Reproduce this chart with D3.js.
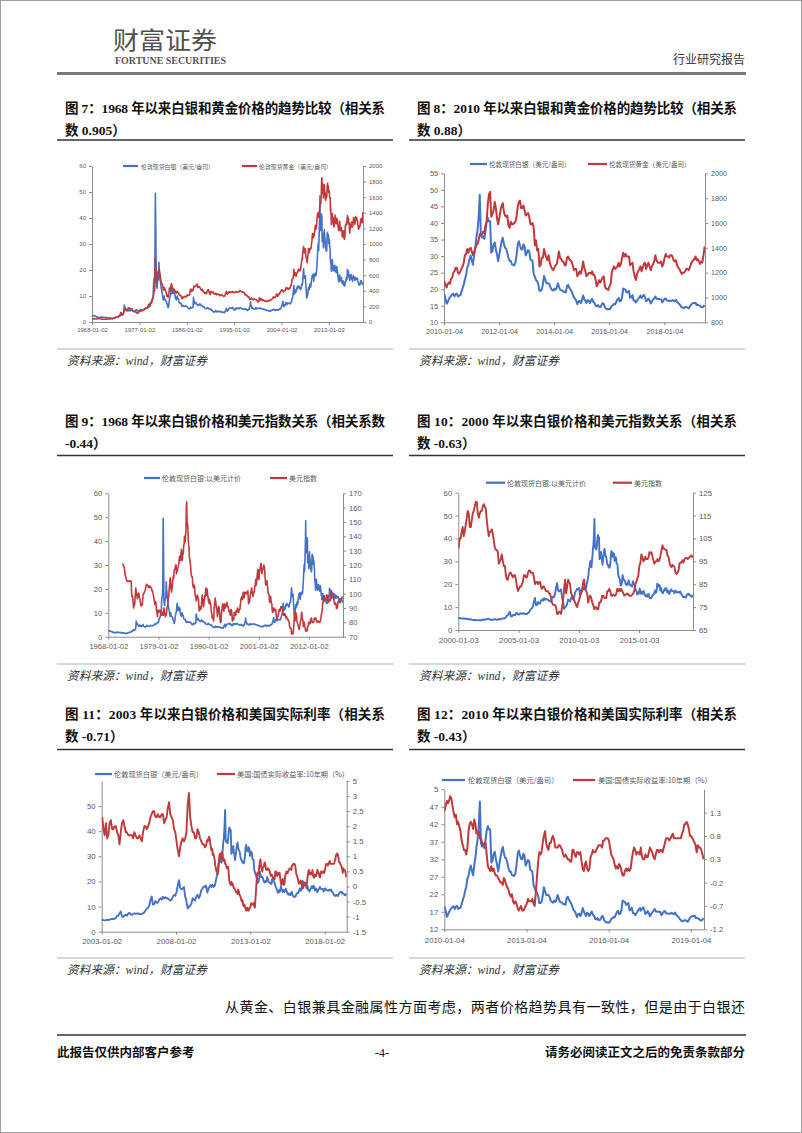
<!DOCTYPE html>
<html><head><meta charset="utf-8">
<script src="https://cdn.jsdelivr.net/npm/d3@7"></script>
<style>body{margin:0;background:#fff}svg{display:block}</style>
</head><body>
<svg id="page" width="802" height="1133"></svg>
<script>
// ---------------- DATA ----------------
// London spot silver, USD/oz, monthly 1968-01 .. 2009-12
const silverMonthly1968 = [
2.3,2.2,2.3,2.4,2.5,2.5,2.3,2.2,2.2,2.0,1.9,2.0,
1.9,1.8,1.8,1.7,1.7,1.6,1.6,1.8,1.9,1.8,1.8,1.8,
1.9,1.8,1.8,1.8,1.8,1.7,1.7,1.7,1.8,1.7,1.6,1.7,
1.6,1.5,1.5,1.6,1.6,1.5,1.6,1.5,1.4,1.3,1.3,1.4,
1.5,1.5,1.5,1.6,1.6,1.6,1.7,1.9,1.9,1.9,1.9,2.0,
2.0,2.3,2.2,2.2,2.5,2.6,3.0,2.7,2.6,2.8,2.9,3.1,
4.0,6.5,5.8,5.5,5.4,4.9,4.7,4.6,4.3,4.7,4.9,4.4,
4.3,4.6,4.5,4.3,4.5,4.5,4.8,5.1,4.5,4.3,4.2,4.1,
4.1,4.0,4.1,4.5,4.6,4.8,4.6,4.3,4.3,4.3,4.4,4.4,
4.4,4.6,4.7,4.8,4.7,4.5,4.5,4.5,4.5,4.7,4.8,4.8,
4.9,5.1,5.3,5.2,5.2,5.3,5.4,5.5,5.7,6.0,6.0,5.9,
6.1,7.6,7.4,7.8,8.4,9.0,9.3,9.8,15.0,16.5,17.0,21.0,
49.5,35.0,15.0,14.0,13.0,16.0,16.0,16.5,23.0,20.0,18.5,16.0,
15.0,13.5,12.5,11.5,11.0,9.5,8.5,9.5,10.0,9.0,8.5,8.5,
8.0,8.0,7.0,7.0,6.5,5.5,6.0,7.0,8.5,9.5,10.0,10.5,
13.0,14.0,11.0,12.0,12.5,11.0,12.0,12.0,12.0,10.0,9.0,9.5,
8.5,9.5,10.0,9.0,9.0,8.8,7.5,7.5,7.2,7.3,7.3,6.8,
6.3,6.0,6.0,6.4,6.2,6.1,6.1,6.1,6.1,6.2,6.0,5.9,
6.0,5.8,5.6,5.3,5.1,5.1,5.0,5.1,5.7,5.6,5.5,5.4,
5.5,5.5,5.8,9.5,8.5,7.0,7.6,7.4,7.6,7.4,6.8,6.7,
6.7,6.4,6.4,6.6,6.5,7.0,6.9,6.6,6.3,6.3,6.4,6.2,
5.9,5.9,5.8,5.8,5.4,5.2,5.2,5.2,5.2,5.1,5.4,5.6,
5.3,5.3,5.0,5.0,5.1,4.9,4.8,4.9,4.8,4.3,4.2,4.2,
4.0,3.8,3.9,4.0,4.0,4.4,4.3,3.9,4.0,4.1,4.1,3.9,
4.1,4.1,4.1,4.0,4.0,4.0,4.0,3.8,3.8,3.7,3.8,3.7,
3.7,3.7,3.6,3.9,4.5,4.5,5.2,4.8,4.1,4.3,4.6,5.0,
5.1,5.3,5.4,5.4,5.5,5.4,5.3,5.2,5.6,5.3,5.2,4.8,
4.7,4.9,4.6,5.0,5.4,5.2,5.1,5.3,5.4,5.3,5.2,5.1,
5.4,5.5,5.5,5.4,5.3,5.1,5.1,5.1,5.1,4.9,4.8,4.8,
4.8,5.1,5.2,4.8,4.8,4.7,4.4,4.5,4.8,4.9,5.0,6.0,
6.2,7.8,6.2,6.3,5.3,5.4,5.5,5.2,5.2,5.0,5.0,4.9,
5.1,5.5,5.2,5.1,5.3,5.1,5.3,5.3,5.3,5.3,5.2,5.3,
5.2,5.3,5.1,5.0,5.0,5.0,5.0,4.9,4.9,4.8,4.7,4.6,
4.7,4.5,4.4,4.4,4.4,4.4,4.3,4.2,4.3,4.3,4.1,4.5,
4.5,4.4,4.6,4.6,4.7,4.9,4.9,4.6,4.5,4.4,4.5,4.6,
4.8,4.6,4.5,4.6,4.8,4.6,4.8,5.0,5.1,5.0,5.2,5.5,
6.3,6.4,7.3,8.0,6.0,5.9,6.5,6.7,6.4,7.2,7.5,6.9,
6.7,7.2,7.3,7.1,7.2,7.3,7.0,7.0,7.0,7.4,7.7,8.6,
9.1,9.6,10.3,12.6,14.0,10.8,11.0,12.2,11.5,11.6,12.8,13.3,
12.8,13.9,13.2,13.7,13.3,13.3,12.8,12.4,12.8,13.9,14.6,14.3,
15.8,18.5,20.5,17.4,16.8,17.1,17.8,14.0,12.0,9.2,10.0,10.3,
11.3,13.3,12.9,12.4,14.0,14.7,13.4,14.4,16.5,17.2,18.0,17.8];
// London spot silver, two readings per month 2010-01 .. 2019-06
const silverSemi2010 = [
18.4,17.2,15.6,16.2,16.9,17.5,18.0,18.4,18.6,17.8,18.5,18.7,17.8,18.1,18.1,19.2,20.4,21.4,22.9,24.1,26.5,27.3,29.1,30.2,
28.6,27.4,30.4,32.5,35.4,37.4,41.5,48.5,36.5,35.6,36.0,35.2,37.5,40.2,41.5,40.5,40.5,31.0,31.5,33.5,34.1,32.0,30.5,28.5,
30.5,32.5,34.5,35.5,33.8,32.5,32.2,31.0,29.5,28.5,28.5,27.5,27.4,27.2,28.0,30.2,33.5,34.5,33.2,32.1,32.0,33.6,33.0,30.2,
31.0,31.8,31.4,29.0,28.8,28.5,24.5,23.8,22.8,22.5,21.5,19.5,19.5,19.8,21.5,24.0,23.0,21.8,21.8,21.8,21.2,20.2,19.8,19.6,
20.2,19.8,20.5,21.8,20.9,19.9,19.7,19.6,19.2,19.2,19.0,20.9,21.3,20.5,19.9,19.4,18.4,17.5,17.2,16.5,15.5,16.3,16.5,15.8,
16.5,18.1,17.0,16.4,15.8,16.7,16.5,15.8,16.5,17.1,16.1,15.9,15.0,14.8,15.2,14.7,14.6,15.1,15.8,15.6,14.5,14.1,13.9,14.0,
13.9,14.2,15.0,15.2,15.5,15.4,16.2,16.9,17.3,16.3,16.5,17.6,20.2,20.0,19.8,19.0,19.2,19.5,17.4,17.6,18.2,16.6,16.6,16.0,
16.6,17.1,17.6,18.1,17.3,17.8,18.3,17.6,16.4,16.6,17.2,16.6,15.7,16.3,16.9,17.2,17.8,17.1,17.1,17.0,17.0,16.9,16.0,16.5,
17.1,17.2,16.6,16.5,16.5,16.4,16.5,16.7,16.5,16.3,16.8,16.1,15.8,15.5,15.0,14.6,14.3,14.3,14.6,14.6,14.4,14.2,14.7,15.3,
15.6,15.8,15.8,15.9,15.2,15.3,15.1,15.0,14.6,14.5,14.8,15.2];
// London spot gold, USD/oz, monthly 1968-01 .. 2009-12
const goldMonthly1968 = [
35,36,38,40,41,41,40,39,39,38,39,41,
43,42,43,43,43,41,42,41,41,40,36,35,
35,35,35,36,36,35,35,35,36,37,37,37,
38,39,39,39,40,40,41,42,42,42,43,43,
46,48,48,49,54,62,65,67,65,65,63,64,
65,74,84,90,102,120,120,106,103,100,94,106,
129,150,168,172,163,154,143,154,151,158,181,183,
176,180,178,169,167,164,165,163,144,143,142,139,
131,132,133,128,127,126,118,110,114,117,131,133,
132,136,148,149,147,141,144,145,149,158,162,160,
173,178,183,175,177,183,188,206,213,227,207,208,
227,245,242,239,257,280,295,301,355,392,392,455,
830,665,553,517,514,600,645,627,673,661,623,594,
557,500,499,495,480,460,410,410,443,437,413,410,
384,374,330,350,334,315,339,365,435,422,416,444,
481,491,420,432,437,413,422,417,411,394,382,388,
371,386,394,382,378,378,348,349,341,340,341,320,
303,298,304,325,316,317,317,330,324,325,325,322,
346,338,346,340,342,343,348,376,418,423,399,391,
408,401,409,438,460,450,451,461,460,465,467,487,
477,442,444,452,452,451,436,431,413,406,420,419,
404,388,390,384,371,367,375,365,362,367,394,409,
410,416,393,374,369,352,362,395,389,381,381,378,
383,363,363,358,357,367,368,356,348,358,360,361,
354,354,345,338,337,341,352,343,345,344,335,334,
329,330,330,342,367,372,392,379,355,364,374,383,
387,382,384,377,381,385,385,380,391,389,384,379,
379,377,382,391,385,387,386,383,383,383,386,387,
400,405,396,393,392,385,383,387,383,381,378,369,
355,347,352,344,344,341,324,324,323,325,306,289,
289,297,296,308,299,292,293,284,289,296,294,291,
287,287,286,282,276,261,256,257,265,311,293,283,
284,300,286,280,275,286,282,275,273,270,266,272,
265,262,263,260,272,270,268,273,283,283,276,276,
282,295,294,302,314,321,314,310,319,317,319,333,
356,359,340,328,355,356,351,359,379,378,389,407,
414,405,406,404,384,392,398,400,405,420,439,442,
424,423,434,429,422,431,424,437,456,470,476,510,
550,555,557,610,676,596,633,632,598,586,628,629,
631,665,655,679,667,655,665,665,713,754,806,803,
889,923,968,909,888,890,940,839,829,807,760,816,
858,943,924,890,928,946,934,949,996,1043,1127,1134];
// London spot gold, two readings per month 2010-01 .. 2019-06
const goldSemi2010 = [
1130,1100,1080,1110,1120,1110,1150,1160,1200,1210,1240,1240,1200,1190,1210,1230,1250,1280,1340,1350,1390,1360,1390,1400,
1370,1340,1360,1400,1420,1430,1460,1510,1500,1510,1530,1520,1580,1610,1750,1830,1850,1650,1670,1700,1770,1720,1640,1590,
1640,1700,1740,1760,1690,1660,1650,1660,1580,1560,1610,1590,1590,1600,1610,1650,1730,1770,1780,1720,1720,1740,1700,1660,
1670,1680,1650,1590,1590,1600,1560,1420,1460,1380,1390,1250,1260,1320,1320,1390,1350,1320,1300,1340,1280,1250,1230,1220,
1240,1260,1270,1320,1370,1320,1310,1290,1290,1260,1260,1320,1330,1310,1300,1290,1260,1220,1230,1230,1170,1190,1210,1190,
1230,1290,1240,1210,1170,1180,1200,1200,1190,1210,1180,1180,1140,1090,1110,1140,1120,1140,1160,1170,1090,1070,1070,1060,
1090,1110,1200,1230,1250,1230,1240,1250,1280,1250,1270,1320,1360,1330,1350,1330,1330,1330,1260,1270,1280,1210,1170,1140,
1190,1210,1230,1250,1210,1240,1270,1280,1230,1260,1280,1250,1220,1250,1270,1290,1340,1300,1280,1280,1280,1290,1250,1270,
1320,1350,1330,1330,1320,1340,1340,1330,1300,1290,1300,1260,1240,1230,1210,1190,1200,1200,1210,1230,1230,1220,1240,1270,
1290,1300,1310,1330,1300,1310,1290,1270,1290,1280,1340,1410];
// US dollar index, monthly 1971-01 .. 2019-06
const dollarMonthly1971 = [
120.5,120.5,120.3,120.2,119.0,118.5,118.0,115.0,113.0,112.0,111.0,110.0,
109.5,108.5,108.5,108.5,108.5,109.0,108.5,108.5,108.5,109.0,109.0,109.0,
108.0,100.0,98.0,98.5,97.0,94.0,90.0,91.5,92.0,92.5,97.0,101.0,
104.0,101.0,100.0,98.5,96.5,97.5,98.0,100.5,100.5,98.5,97.0,95.5,
94.0,92.0,91.5,92.5,92.0,92.0,95.5,98.5,100.0,100.5,100.5,101.5,
102.0,102.5,104.5,105.0,106.5,106.5,106.0,106.0,105.5,104.5,104.5,104.0,
105.0,105.5,105.0,104.5,104.5,104.0,102.0,102.5,102.0,100.5,99.5,97.5,
96.0,95.0,92.5,93.0,94.5,93.5,90.0,87.5,87.0,84.0,88.5,87.5,
87.0,87.5,87.5,88.5,88.5,87.5,85.5,85.5,85.0,87.0,86.5,85.0,
85.0,86.0,90.0,89.0,86.0,85.0,84.0,86.0,85.0,87.0,90.0,91.0,
92.0,96.0,97.0,99.0,104.0,106.0,110.0,111.0,105.0,103.0,101.0,103.0,
106.0,109.0,111.0,112.0,111.0,116.0,117.0,117.0,119.0,120.0,120.0,114.0,
115.0,116.0,117.0,118.0,119.0,121.0,123.0,126.0,125.0,123.0,126.0,128.0,
131.0,127.0,123.0,126.0,129.0,128.0,134.0,134.0,140.0,139.0,136.0,141.0,
145.0,160.0,164.0,147.0,149.0,146.0,138.0,134.0,133.0,126.0,124.0,122.0,
120.0,116.0,113.0,112.0,112.0,111.0,106.0,105.0,104.0,104.0,106.0,104.0,
99.0,98.0,98.0,95.0,96.0,98.0,99.0,98.0,97.0,96.0,91.0,88.0,
89.0,91.0,90.0,89.0,90.0,93.0,97.0,99.0,97.0,94.0,91.0,92.0,
96.0,96.0,99.0,98.0,103.0,104.0,99.0,102.0,103.0,99.0,98.0,95.0,
95.0,93.0,96.0,95.0,93.0,93.0,90.0,87.0,86.0,83.0,83.0,84.0,
82.0,81.0,89.0,92.0,93.0,97.0,95.0,93.0,90.0,90.0,87.0,84.0,
87.0,90.0,91.0,91.0,88.0,85.0,81.0,80.0,80.0,83.0,89.0,89.0,
92.0,93.0,91.0,88.0,88.0,91.0,93.0,92.0,90.0,91.0,92.0,92.0,
94.0,92.0,91.0,91.0,90.0,88.0,87.0,88.0,86.0,85.0,88.0,89.0,
88.0,86.0,81.0,81.0,83.0,82.0,82.0,87.0,86.0,85.0,85.0,85.0,
88.0,87.0,88.0,89.0,90.0,89.0,87.0,87.0,89.0,89.0,89.0,92.0,
94.0,97.0,96.0,98.0,96.0,96.0,100.0,101.0,98.0,97.0,99.0,101.0,
101.0,100.0,101.0,100.0,100.0,101.0,101.0,102.0,97.0,93.0,95.0,94.0,
96.0,98.0,100.0,101.0,102.0,104.0,102.0,100.0,99.0,98.0,101.0,101.0,
101.0,105.0,105.0,108.0,110.0,106.0,108.0,111.0,114.0,117.0,116.0,110.0,
110.0,113.0,116.0,117.0,119.0,121.0,121.0,116.0,114.0,116.0,117.0,117.0,
119.0,120.0,119.0,118.0,113.0,109.0,106.0,108.0,108.0,109.0,107.0,104.0,
101.0,100.0,100.0,99.0,94.0,95.0,96.0,98.0,95.0,93.0,93.0,89.0,
87.0,87.0,89.0,90.0,90.0,89.0,88.0,89.0,89.0,87.0,84.0,82.0,
83.0,84.0,84.0,85.0,86.0,89.0,89.0,88.0,88.0,90.0,91.0,91.0,
90.0,90.0,90.0,88.0,85.0,86.0,86.0,85.0,86.0,86.0,84.0,83.0,
84.0,84.0,83.0,82.0,82.0,82.0,81.0,81.0,79.0,77.0,76.0,76.0,
76.0,75.0,72.0,72.0,73.0,73.0,72.0,75.0,78.0,83.0,87.0,81.0,
84.0,87.0,86.0,85.0,81.0,80.0,79.0,78.0,77.0,76.0,75.0,77.0,
78.0,80.0,81.0,82.0,86.0,87.0,83.0,82.0,81.0,77.0,79.0,80.0,
79.0,77.0,76.0,74.0,75.0,75.0,74.0,74.0,77.0,77.0,78.0,80.0,
80.0,79.0,79.0,79.0,82.0,82.0,83.0,82.0,80.0,80.0,80.5,80.0,
80.0,81.0,83.0,82.0,83.0,82.0,83.0,82.0,81.0,80.0,80.5,80.5,
81.0,80.5,80.0,80.0,80.0,80.5,81.0,82.5,85.0,86.0,87.5,89.0,
93.0,94.5,98.0,97.0,95.0,95.5,97.0,96.0,96.0,96.5,99.0,98.5,
99.0,97.0,95.5,94.0,95.0,95.0,96.0,95.0,95.5,97.5,100.0,102.0,
100.5,100.5,100.0,100.0,97.5,97.0,94.5,93.0,92.5,93.5,93.0,92.5,
90.0,89.5,90.0,91.0,94.0,94.5,94.5,95.5,94.5,96.0,96.5,96.5,
96.0,96.5,96.8,97.3,97.6,96.5];
// US 10Y TIPS real yield (%), monthly 2003-01 .. 2009-12
const realYieldMonthly2003 = [
2.3,1.9,1.7,2.1,1.6,1.7,2.1,2.2,1.9,1.9,2.0,2.0,
1.8,1.7,1.4,1.8,2.1,2.2,2.0,1.8,1.8,1.7,1.7,1.7,
1.7,1.6,1.8,1.7,1.6,1.6,1.7,1.6,1.5,1.8,2.0,2.0,
1.9,2.0,2.1,2.3,2.4,2.5,2.5,2.3,2.3,2.4,2.3,2.3,
2.4,2.4,2.1,2.2,2.3,2.6,2.8,2.4,2.3,2.2,1.9,1.8,
1.5,1.2,1.0,1.3,1.5,1.6,1.5,1.6,1.8,2.7,3.1,2.3,
2.0,1.8,1.8,1.6,1.6,1.9,1.8,1.6,1.5,1.4,1.4,1.3];
// US 10Y TIPS real yield (%), two readings per month 2010-01 .. 2019-06
const realYieldSemi2010 = [
1.35,1.45,1.55,1.50,1.55,1.65,1.60,1.45,1.30,1.20,1.25,1.05,1.10,1.00,0.90,0.70,0.60,0.50,0.50,0.40,0.55,0.90,1.05,1.10,
1.05,0.95,1.15,1.05,0.85,0.85,0.90,0.75,0.75,0.65,0.60,0.65,0.65,0.40,0.15,0.10,0.05,0.15,0.05,0.10,0.00,-0.05,-0.05,-0.10,
-0.15,-0.20,-0.20,-0.25,-0.10,-0.15,-0.25,-0.30,-0.35,-0.45,-0.50,-0.45,-0.60,-0.65,-0.60,-0.65,-0.75,-0.80,-0.75,-0.70,-0.80,-0.80,-0.75,-0.70,
-0.65,-0.55,-0.60,-0.60,-0.60,-0.55,-0.65,-0.70,-0.40,-0.10,0.25,0.45,0.40,0.45,0.65,0.80,0.90,0.65,0.55,0.50,0.65,0.65,0.75,0.80,
0.70,0.55,0.55,0.55,0.60,0.60,0.55,0.50,0.40,0.35,0.40,0.35,0.30,0.30,0.25,0.25,0.50,0.50,0.40,0.35,0.45,0.45,0.40,0.45,
0.25,0.10,0.05,0.20,0.25,0.10,0.05,0.10,0.35,0.40,0.50,0.45,0.45,0.50,0.55,0.60,0.60,0.60,0.55,0.70,0.70,0.75,0.75,0.75,
0.70,0.55,0.40,0.35,0.30,0.20,0.10,0.15,0.10,0.20,0.15,0.05,-0.05,-0.05,0.05,0.10,0.05,0.10,0.05,0.10,0.30,0.45,0.55,0.50,
0.40,0.45,0.45,0.40,0.55,0.35,0.30,0.30,0.40,0.35,0.35,0.45,0.55,0.50,0.45,0.35,0.30,0.40,0.50,0.50,0.45,0.50,0.50,0.45,
0.55,0.65,0.75,0.75,0.75,0.70,0.75,0.80,0.85,0.75,0.75,0.75,0.75,0.75,0.75,0.75,0.85,0.90,1.05,1.05,1.10,1.05,0.95,0.80,
0.80,0.75,0.70,0.65,0.60,0.45,0.60,0.55,0.55,0.50,0.40,0.30];

// axis tick values and labels
const c1XTicks = ["1968-01-02","1977-01-02","1986-01-02","1995-01-02","2004-01-02","2013-01-02"];
const c2XTicks = ["2010-01-04","2012-01-04","2014-01-04","2016-01-04","2018-01-04"];
const c3XTicks = ["1968-01-02","1979-01-02","1990-01-02","2001-01-02","2012-01-02"];
const c4XTicks = ["2000-01-03","2005-01-03","2010-01-03","2015-01-03"];
const c5XTicks = ["2003-01-02","2008-01-02","2013-01-02","2018-01-02"];
const c6XTicks = ["2010-01-04","2013-01-04","2016-01-04","2019-01-04"];
const c1LeftTicks = [0,10,20,30,40,50,60];
const c1RightTicks = [0,200,400,600,800,1000,1200,1400,1600,1800,2000];
const c2LeftTicks = [10,15,20,25,30,35,40,45,50,55];
const c2RightTicks = [800,1000,1200,1400,1600,1800,2000];
const c3LeftTicks = [0,10,20,30,40,50,60];
const c3RightTicks = [70,80,90,100,110,120,130,140,150,160,170];
const c4LeftTicks = [0,10,20,30,40,50,60];
const c4RightTicks = [65,75,85,95,105,115,125];
const c5LeftTicks = [0,10,20,30,40,50];
const c5RightTicks = [-1.5,-1,-0.5,0,0.5,1,1.5,2,2.5,3,3.5];
const c5RightLabels = ["-1.5","-1","-0.5","0","0.5","1","1.5","2","2.5","3","5"];
const c6LeftTicks = [12,17,22,27,32,37,42,47,52];
const c6LeftLabels = ["12","17","22","27","32","37","42","47","5"];
const c6RightTicks = [-1.2,-0.7,-0.2,0.3,0.8,1.3];

const legSilverUsd = "伦敦现货白银（美元/盎司）";
const legGoldUsd = "伦敦现货黄金（美元/盎司）";
const legSilverIdx = "伦敦现货白银:以美元计价";
const legDollar = "美元指数";
const legRealRate = "美国:国债实际收益率:10年期（%）";

// ---------------- BUILD ----------------
const parse = d3.timeParse("%Y-%m-%d");
function monthly(y, vals){ return vals.map((v,i)=>({d:new Date(y, i, 15), v})); }
function semi(y, vals){ return vals.map((v,i)=>({d:new Date(y, Math.floor(i/2), i%2 ? 23 : 8), v})); }
const silver = monthly(1968, silverMonthly1968).concat(semi(2010, silverSemi2010));
const gold = monthly(1968, goldMonthly1968).concat(semi(2010, goldSemi2010));
const dollar = monthly(1971, dollarMonthly1971);
const realYield = monthly(2003, realYieldMonthly2003).concat(semi(2010, realYieldSemi2010));

const LAT = "Arial, 'Liberation Sans', sans-serif";
const CJK = "'Noto Sans CJK SC', sans-serif";
const SERIF_CJK = "'Liberation Serif', 'Noto Sans CJK SC', serif";
const BLUE = "#4472C4", RED = "#C0393B", AXIS = "#8c8c8c", LABEL = "#595959";

const svg = d3.select("#page");
svg.append("rect").attr("x",0.5).attr("y",0.5).attr("width",801).attr("height",1132)
  .attr("fill","#fff").attr("stroke","#a0a0a0");

// header
svg.append("text").attr("x",113).attr("y",49).text("财富证券")
  .attr("font-family",CJK).attr("font-size",24).attr("fill","#505050")
  .attr("textLength",104).attr("lengthAdjust","spacingAndGlyphs");
svg.append("text").attr("x",115).attr("y",64).text("FORTUNE SECURITIES")
  .attr("font-family","'Liberation Serif', serif").attr("font-weight","bold").attr("font-size",9.5).attr("fill","#555")
  .attr("textLength",111).attr("lengthAdjust","spacingAndGlyphs");
svg.append("text").attr("x",745).attr("y",64).attr("text-anchor","end").text("行业研究报告")
  .attr("font-family",CJK).attr("font-size",12).attr("fill","#333");
svg.append("line").attr("x1",57).attr("x2",746).attr("y1",73.5).attr("y2",73.5).attr("stroke","#7a7a7a").attr("stroke-width",3);

// titles, rules, captions
function block(x, w, y1, l1, l2, ruleY, sepY, capY){
  svg.append("text").attr("x",x).attr("y",y1).text(l1)
    .attr("font-family",SERIF_CJK).attr("font-weight","bold").attr("font-size",13.5).attr("fill","#111")
    .attr("textLength",320).attr("lengthAdjust","spacing");
  svg.append("text").attr("x",x).attr("y",y1+22).text(l2)
    .attr("font-family",SERIF_CJK).attr("font-weight","bold").attr("font-size",13.5).attr("fill","#111");
  svg.append("line").attr("x1",x-8).attr("x2",x-8+w).attr("y1",ruleY).attr("y2",ruleY).attr("stroke","#333").attr("stroke-width",1.5);
  svg.append("line").attr("x1",x-8).attr("x2",x-8+w).attr("y1",sepY).attr("y2",sepY).attr("stroke","#b0b0b0").attr("stroke-width",1);
  svg.append("text").attr("x",x+2).attr("y",capY).text("资料来源：wind，财富证券")
    .attr("font-family",SERIF_CJK).attr("font-style","italic").attr("font-size",12).attr("fill","#333")
    .attr("textLength",140).attr("lengthAdjust","spacingAndGlyphs");
}
block(65, 336, 113, "图 7：1968 年以来白银和黄金价格的趋势比较（相关系", "数 0.905）", 140, 349, 365);
block(417, 336, 113, "图 8：2010 年以来白银和黄金价格的趋势比较（相关系", "数 0.88）", 140, 349, 365);
block(65, 336, 426, "图 9：1968 年以来白银价格和美元指数关系（相关系数", "-0.44）", 455.5, 664, 680);
block(417, 336, 426, "图 10：2000 年以来白银价格和美元指数关系（相关系", "数 -0.63）", 455.5, 664, 680);
block(65, 336, 719, "图 11：2003 年以来白银价格和美国实际利率（相关系", "数 -0.71）", 749.5, 958, 974);
block(417, 336, 719, "图 12：2010 年以来白银价格和美国实际利率（相关系", "数 -0.43）", 749.5, 958, 974);

// body + footer
svg.append("text").attr("x",225).attr("y",1012).text("从黄金、白银兼具金融属性方面考虑，两者价格趋势具有一致性，但是由于白银还")
  .attr("font-family",SERIF_CJK).attr("font-size",14).attr("fill","#111")
  .attr("textLength",520).attr("lengthAdjust","spacing");
svg.append("line").attr("x1",57).attr("x2",746).attr("y1",1035).attr("y2",1035).attr("stroke","#333").attr("stroke-width",1.5);
svg.append("text").attr("x",57).attr("y",1057).text("此报告仅供内部客户参考")
  .attr("font-family",CJK).attr("font-weight","bold").attr("font-size",12.5).attr("fill","#111");
svg.append("text").attr("x",382).attr("y",1057).attr("text-anchor","middle").text("-4-")
  .attr("font-family","'Liberation Serif', serif").attr("font-size",12.5).attr("fill","#111");
svg.append("text").attr("x",745).attr("y",1057).attr("text-anchor","end").text("请务必阅读正文之后的免责条款部分")
  .attr("font-family",CJK).attr("font-weight","bold").attr("font-size",12.5).attr("fill","#111");

// chart builder
function chart(c){
  const g = svg.append("g");
  const x = d3.scaleTime().domain(c.xDomain.map(parse)).range([c.x0, c.x1]);
  const yL = d3.scaleLinear().domain(c.leftDomain).range([c.yBot, c.yTop]);
  const yR = d3.scaleLinear().domain(c.rightDomain).range([c.yBot, c.yTop]);
  const style = (s) => {
    s.select(".domain").attr("stroke", AXIS);
    s.selectAll(".tick line").attr("stroke", AXIS);
    s.selectAll("text").attr("fill", LABEL).attr("font-family", LAT).attr("font-size", c.fs);
  };
  g.append("g").attr("transform",`translate(${c.x0},0)`)
    .call(d3.axisLeft(yL).tickValues(c.leftTicks).tickFormat((d,i)=>c.leftLabels ? c.leftLabels[i] : String(d))
      .tickSize(3).tickSizeOuter(0).tickPadding(3)).call(style);
  g.append("g").attr("transform",`translate(${c.x1},0)`)
    .call(d3.axisRight(yR).tickValues(c.rightTicks).tickFormat((d,i)=>c.rightLabels ? c.rightLabels[i] : String(d))
      .tickSize(3).tickSizeOuter(0).tickPadding(3)).call(style);
  g.append("g").attr("transform",`translate(0,${c.yBot})`)
    .call(d3.axisBottom(x).tickValues(c.xTicks.map(parse)).tickFormat((d,i)=>c.xTicks[i])
      .tickSize(3).tickSizeOuter(0).tickPadding(c.xPad)).call(style);

  const id = "clip" + c.id;
  svg.append("clipPath").attr("id", id).append("rect")
    .attr("x", c.x0).attr("y", c.yTop - 6).attr("width", c.x1 - c.x0).attr("height", c.yBot - c.yTop + 6);
  const d0 = x.domain()[0], d1 = x.domain()[1];
  const inRange = (arr) => arr.filter(p => p.d >= d3.timeDay.offset(d0,-40) && p.d <= d3.timeDay.offset(d1,40));
  const lines = g.append("g").attr("clip-path", `url(#${id})`);
  lines.append("path").datum(inRange(c.left.data))
    .attr("d", d3.line().x(p=>x(p.d)).y(p=>yL(p.v)))
    .attr("fill","none").attr("stroke",BLUE).attr("stroke-width",c.sw).attr("stroke-linejoin","round");
  lines.append("path").datum(inRange(c.right.data))
    .attr("d", d3.line().x(p=>x(p.d)).y(p=>yR(p.v)))
    .attr("fill","none").attr("stroke",RED).attr("stroke-width",c.sw).attr("stroke-linejoin","round");

  // legend
  [[c.left, BLUE],[c.right, RED]].forEach(([s, col]) => {
    g.append("line").attr("x1", s.lx1).attr("x2", s.lx2).attr("y1", c.legY).attr("y2", c.legY)
      .attr("stroke", col).attr("stroke-width", 2.2);
    g.append("text").attr("x", s.tx).attr("y", c.legY).attr("dominant-baseline","central").text(s.name)
      .attr("font-family", CJK).attr("font-size", c.lfs).attr("fill", LABEL);
  });
}

chart({id:1, x0:92, x1:363, yTop:166, yBot:322, xDomain:["1968-01-02","2019-06-28"], xTicks:c1XTicks, xPad:3,
  leftDomain:[0,60], leftTicks:c1LeftTicks, rightDomain:[0,2000], rightTicks:c1RightTicks, fs:6, lfs:5.9, sw:1.6, legY:166,
  left:{data:silver, name:legSilverUsd, lx1:123, lx2:138, tx:141},
  right:{data:gold, name:legGoldUsd, lx1:242, lx2:257, tx:259}});
chart({id:2, x0:444, x1:705, yTop:173.3, yBot:322.3, xDomain:["2010-01-04","2019-06-28"], xTicks:c2XTicks, xPad:4,
  leftDomain:[10,55], leftTicks:c2LeftTicks, rightDomain:[800,2000], rightTicks:c2RightTicks, fs:7.2, lfs:6.6, sw:2, legY:164,
  left:{data:silver, name:legSilverUsd, lx1:470, lx2:487, tx:489},
  right:{data:gold, name:legGoldUsd, lx1:588, lx2:607, tx:609}});
chart({id:3, x0:108.3, x1:343, yTop:493.3, yBot:636.7, xDomain:["1968-01-02","2019-06-28"], xTicks:c3XTicks, xPad:4,
  leftDomain:[0,60], leftTicks:c3LeftTicks, rightDomain:[70,170], rightTicks:c3RightTicks, fs:7.6, lfs:7, sw:1.6, legY:478,
  left:{data:silver, name:legSilverIdx, lx1:144, lx2:160, tx:162},
  right:{data:dollar, name:legDollar, lx1:270, lx2:287, tx:289}});
chart({id:4, x0:458.3, x1:693, yTop:492.7, yBot:630, xDomain:["2000-01-03","2019-06-28"], xTicks:c4XTicks, xPad:4,
  leftDomain:[0,60], leftTicks:c4LeftTicks, rightDomain:[65,125], rightTicks:c4RightTicks, fs:7.8, lfs:7, sw:1.9, legY:482.7,
  left:{data:silver, name:legSilverIdx, lx1:486, lx2:505, tx:507},
  right:{data:dollar, name:legDollar, lx1:613, lx2:632, tx:634}});
chart({id:5, x0:101.7, x1:346.7, yTop:781, yBot:931.7, xDomain:["2003-01-02","2019-06-28"], xTicks:c5XTicks, xPad:4,
  leftDomain:[0,60], leftTicks:c5LeftTicks, rightDomain:[-1.5,3.5], rightTicks:c5RightTicks, rightLabels:c5RightLabels,
  fs:7.8, lfs:7.2, sw:1.9, legY:774,
  left:{data:silver, name:legSilverUsd, lx1:95, lx2:112, tx:114},
  right:{data:realYield, name:legRealRate, lx1:217, lx2:235, tx:237}});
chart({id:6, x0:444.3, x1:704, yTop:789.2, yBot:929.3, xDomain:["2010-01-04","2019-06-28"], xTicks:c6XTicks, xPad:5,
  leftDomain:[12,52], leftTicks:c6LeftTicks, leftLabels:c6LeftLabels, rightDomain:[-1.2,1.8], rightTicks:c6RightTicks,
  fs:7.8, lfs:7.3, sw:2, legY:780,
  left:{data:silver, name:legSilverUsd, lx1:442, lx2:465, tx:468},
  right:{data:realYield, name:legRealRate, lx1:573, lx2:595, tx:598}});
</script>
</body></html>
